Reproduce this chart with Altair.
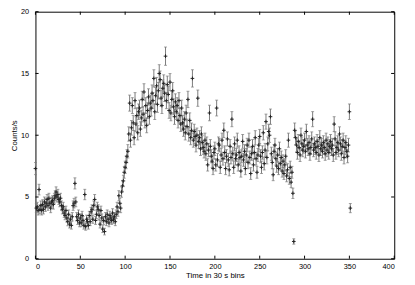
import altair as alt
import pandas as pd

# Count rate per 30 s bin
rate = [
    7.3, 4.1, 4.2, 3.9, 5.6, 4.0, 4.3, 3.9, 4.4, 4.0,
    4.6, 4.2, 4.5, 4.8, 4.3, 4.9, 4.5, 4.1, 4.6, 4.7,
    4.4, 4.9, 5.1, 5.4, 5.0, 5.2, 4.8, 4.6, 4.9, 4.3,
    4.0, 4.2, 3.7, 3.5, 3.9, 3.3, 3.0, 3.6, 2.8, 3.2,
    2.7, 3.4, 4.3, 4.5, 6.1, 4.6, 3.4, 3.1, 3.6, 2.9,
    3.3, 2.9, 3.5, 3.1, 2.7, 5.2, 2.6, 3.2, 3.0, 2.7,
    3.5, 3.0, 3.8, 4.0, 3.2, 4.3, 4.8, 3.1, 3.6, 4.2,
    4.0, 3.5, 2.8, 3.9, 3.3, 2.4, 3.1, 2.2, 3.4, 3.0,
    3.6, 3.2, 2.9, 3.5, 3.3, 3.1, 3.7, 3.2, 3.4, 3.0,
    3.6, 4.2, 3.8, 5.1, 4.5, 4.1, 5.4, 5.9, 6.3, 7.0,
    7.4, 7.8, 8.3, 8.7, 10.1, 12.6, 9.6, 10.6, 12.4, 11.0,
    9.8, 12.8, 10.9, 11.6, 10.2, 11.9, 12.2, 10.5, 11.4, 12.9,
    11.7, 13.5, 11.2, 12.4, 10.8, 12.0, 13.1, 11.5, 12.6, 12.2,
    13.4, 12.8, 14.6, 11.9, 13.2, 14.0, 12.5, 13.6, 15.0, 14.5,
    13.0, 12.4, 13.8, 14.2, 13.4, 16.4, 12.8, 14.1, 13.3, 12.0,
    14.3, 11.8, 12.9, 13.6, 12.3, 11.5, 12.7, 11.9, 12.4, 11.2,
    12.8, 11.6, 10.9, 12.2, 11.0, 10.5, 11.3, 10.2, 11.8, 10.7,
    12.9, 10.1, 11.2, 9.8, 10.4, 14.6, 9.6, 10.3, 9.9, 9.2,
    10.0, 13.0, 9.5, 9.8, 8.9, 10.1, 9.4, 9.0, 8.7, 9.6,
    8.5, 9.3, 7.6, 8.8, 11.8, 9.1, 8.3, 7.9, 7.3, 8.6,
    8.9, 7.6, 12.2, 8.0, 9.3, 9.2, 7.4, 8.4, 9.6, 8.1,
    10.4, 8.6, 7.3, 8.3, 9.7, 8.0, 7.2, 9.1, 8.2, 11.3,
    8.5, 7.4, 9.3, 8.1, 8.4, 9.6, 7.6, 8.6, 8.2, 7.1,
    8.3, 9.5, 8.0, 8.7, 7.3, 8.4, 9.2, 7.8, 9.6, 8.2,
    6.9, 8.5, 9.1, 7.6, 8.6, 9.8, 8.1, 7.0, 8.4, 9.2,
    9.9, 8.3, 7.4, 8.6, 10.2, 7.7, 8.8, 11.1, 8.2, 9.3,
    10.3, 10.0, 11.5, 8.5, 7.8, 6.8, 8.7, 9.2, 8.1, 7.5,
    8.4, 7.3, 8.9, 7.7, 8.2, 7.1, 7.9, 6.9, 7.6, 8.3,
    6.7, 7.2, 9.6, 6.5, 7.4, 6.2, 7.0, 5.3, 1.4, 10.4,
    9.8, 9.2, 8.6, 9.5, 9.0, 8.4, 10.0, 9.3, 8.8, 9.1,
    9.6, 8.7, 10.3, 9.2, 8.9, 9.4, 8.5, 9.0, 9.7, 11.3,
    8.8, 9.3, 9.0, 8.6, 9.5, 9.1, 8.4, 9.8, 8.9, 9.2,
    8.7, 9.4, 9.0, 8.5, 9.6, 8.8, 9.3, 8.6, 9.1, 9.5,
    8.9, 9.2, 8.4, 10.9, 9.7, 8.6, 9.0, 9.4, 8.8, 10.1,
    9.3, 8.5, 9.1, 9.6, 8.2, 9.0, 9.4, 8.7, 8.3, 9.2,
    11.9, 4.1,
]

# Half-length of each error bar
err = [
    0.49, 0.37, 0.37, 0.36, 0.43, 0.37, 0.38, 0.36, 0.38, 0.37,
    0.39, 0.37, 0.39, 0.40, 0.38, 0.40, 0.39, 0.37, 0.39, 0.40,
    0.38, 0.40, 0.41, 0.42, 0.41, 0.42, 0.40, 0.39, 0.40, 0.38,
    0.37, 0.37, 0.35, 0.34, 0.36, 0.33, 0.32, 0.35, 0.31, 0.33,
    0.30, 0.34, 0.38, 0.39, 0.45, 0.39, 0.34, 0.32, 0.35, 0.31,
    0.33, 0.31, 0.34, 0.32, 0.30, 0.42, 0.29, 0.33, 0.32, 0.30,
    0.34, 0.32, 0.36, 0.37, 0.33, 0.38, 0.40, 0.32, 0.35, 0.37,
    0.37, 0.34, 0.31, 0.36, 0.33, 0.28, 0.32, 0.27, 0.34, 0.32,
    0.35, 0.33, 0.31, 0.34, 0.33, 0.32, 0.35, 0.33, 0.34, 0.32,
    0.35, 0.37, 0.36, 0.41, 0.39, 0.37, 0.42, 0.44, 0.46, 0.48,
    0.50, 0.51, 0.53, 0.54, 0.58, 0.65, 0.57, 0.59, 0.64, 0.61,
    0.57, 0.65, 0.60, 0.62, 0.58, 0.63, 0.64, 0.59, 0.62, 0.66,
    0.62, 0.67, 0.61, 0.64, 0.60, 0.63, 0.66, 0.62, 0.65, 0.64,
    0.67, 0.65, 0.70, 0.63, 0.66, 0.68, 0.65, 0.67, 0.71, 0.70,
    0.66, 0.64, 0.68, 0.69, 0.67, 0.74, 0.65, 0.69, 0.67, 0.63,
    0.69, 0.63, 0.66, 0.67, 0.64, 0.62, 0.65, 0.63, 0.64, 0.61,
    0.65, 0.62, 0.60, 0.64, 0.61, 0.59, 0.61, 0.58, 0.63, 0.60,
    0.66, 0.58, 0.61, 0.57, 0.59, 0.70, 0.57, 0.59, 0.57, 0.55,
    0.58, 0.66, 0.56, 0.57, 0.54, 0.58, 0.56, 0.55, 0.54, 0.57,
    0.53, 0.56, 0.50, 0.54, 0.63, 0.55, 0.53, 0.51, 0.49, 0.54,
    0.54, 0.50, 0.64, 0.52, 0.56, 0.55, 0.50, 0.53, 0.57, 0.52,
    0.59, 0.54, 0.49, 0.53, 0.57, 0.52, 0.49, 0.55, 0.52, 0.61,
    0.53, 0.50, 0.56, 0.52, 0.53, 0.57, 0.50, 0.54, 0.52, 0.49,
    0.53, 0.56, 0.52, 0.54, 0.49, 0.53, 0.55, 0.51, 0.57, 0.52,
    0.48, 0.53, 0.55, 0.50, 0.54, 0.57, 0.52, 0.48, 0.53, 0.55,
    0.57, 0.53, 0.50, 0.54, 0.58, 0.51, 0.54, 0.61, 0.52, 0.56,
    0.59, 0.58, 0.62, 0.53, 0.51, 0.48, 0.54, 0.55, 0.52, 0.50,
    0.53, 0.49, 0.54, 0.51, 0.52, 0.49, 0.51, 0.48, 0.50, 0.53,
    0.47, 0.49, 0.57, 0.47, 0.50, 0.45, 0.48, 0.42, 0.22, 0.59,
    0.57, 0.55, 0.54, 0.56, 0.55, 0.53, 0.58, 0.56, 0.54, 0.55,
    0.57, 0.54, 0.59, 0.55, 0.54, 0.56, 0.53, 0.55, 0.57, 0.61,
    0.54, 0.56, 0.55, 0.54, 0.56, 0.55, 0.53, 0.57, 0.54, 0.55,
    0.54, 0.56, 0.55, 0.53, 0.57, 0.54, 0.56, 0.54, 0.55, 0.56,
    0.54, 0.55, 0.53, 0.60, 0.57, 0.54, 0.55, 0.56, 0.54, 0.58,
    0.56, 0.53, 0.55, 0.57, 0.52, 0.55, 0.56, 0.54, 0.53, 0.55,
    0.63, 0.37,
]

x_ticks = [0, 50, 100, 150, 200, 250, 300, 350, 400]
y_ticks = [0, 5, 10, 15, 20]

n = min(len(rate), len(err))
df = pd.DataFrame({
    "t": list(range(n)),
    "v": rate[:n],
    "lo": [rate[i] - err[i] for i in range(n)],
    "hi": [rate[i] + err[i] for i in range(n)],
})
dfx = pd.DataFrame({"xt": x_ticks})
dfy = pd.DataFrame({"yt": y_ticks})

FONT = "Liberation Sans"
xs = alt.Scale(domain=[0, 400], nice=False, zero=False)
ys = alt.Scale(domain=[0, 20], nice=False, zero=False)

x_axis = alt.Axis(values=x_ticks, title="Time in 30 s bins", grid=False, ticks=False,
                  domain=False, labelFontSize=7.5, labelFont=FONT, labelPadding=4,
                  titleFont=FONT, titleFontSize=8, titleFontWeight="normal",
                  titlePadding=2, labelColor="black", titleColor="black")
y_axis = alt.Axis(values=y_ticks, title="Counts/s", grid=False, ticks=False,
                  domain=False, labelFontSize=7.5, labelFont=FONT, labelPadding=7,
                  titleFont=FONT, titleFontSize=8, titleFontWeight="normal",
                  titlePadding=2, labelColor="black", titleColor="black")


def X(field):
    return alt.X(field, type="quantitative", scale=xs, axis=x_axis)


def Y(field):
    return alt.Y(field, type="quantitative", scale=ys, axis=y_axis)


base = alt.Chart(df)
BAR = "#7a7a7a"

bars = base.mark_rule(color=BAR, strokeWidth=1).encode(
    x=X("t"), y=Y("lo"), y2="hi")
cap_hi = base.mark_tick(orient="horizontal", size=3, thickness=1, color=BAR).encode(
    x=X("t"), y=Y("hi"))
cap_lo = base.mark_tick(orient="horizontal", size=3, thickness=1, color=BAR).encode(
    x=X("t"), y=Y("lo"))
pts = base.mark_point(shape="M-1,0H1M0,-1V1", size=14, filled=False,
                      color="#222222", strokeWidth=1, opacity=1).encode(
    x=X("t"), y=Y("v"))

tick_b = alt.Chart(dfx).mark_rule(color="black", strokeWidth=1).encode(
    x=X("xt"), y=alt.datum(0), y2=alt.datum(0.25))
tick_t = alt.Chart(dfx).mark_rule(color="black", strokeWidth=1).encode(
    x=X("xt"), y=alt.datum(20), y2=alt.datum(19.75))
tick_l = alt.Chart(dfy).mark_rule(color="black", strokeWidth=1).encode(
    y=Y("yt"), x=alt.datum(0), x2=alt.datum(3.5))
tick_r = alt.Chart(dfy).mark_rule(color="black", strokeWidth=1).encode(
    y=Y("yt"), x=alt.datum(400), x2=alt.datum(396.5))

chart = alt.layer(bars, cap_hi, cap_lo, pts, tick_b, tick_t, tick_l, tick_r).properties(
    width=366, height=252,
    autosize=alt.AutoSizeParams(type="none"),
    padding={"left": 28, "top": 1, "right": 13, "bottom": 24},
    background="white",
).configure_view(stroke="black", strokeWidth=1)

chart.save("out.html", embed_options={"renderer": "svg", "actions": False})
